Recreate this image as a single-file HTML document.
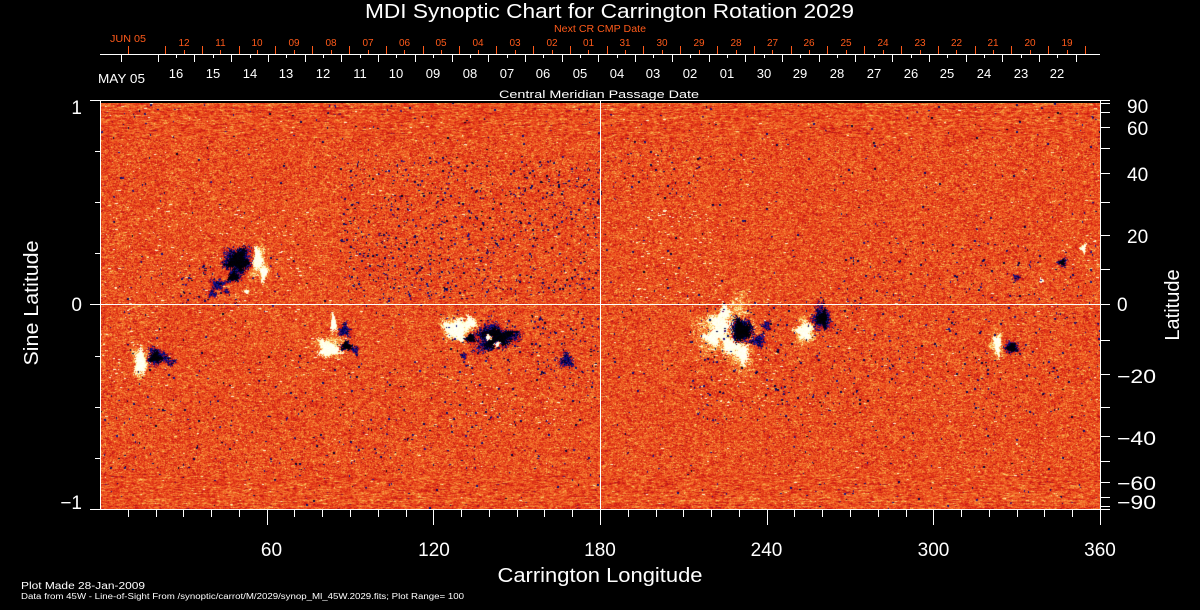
<!DOCTYPE html>
<html><head><meta charset="utf-8"><style>
html,body{margin:0;padding:0;background:#000;}
#wrap{position:relative;width:1200px;height:610px;overflow:hidden;background:#000;}
#cv{position:absolute;left:100px;top:103px;width:1000px;height:406px;background:#e95a24;}
#ov{position:absolute;left:0;top:0;}
text{font-family:"Liberation Sans",sans-serif;}
</style></head><body><div id="wrap">
<canvas id="cv" width="1000" height="406"></canvas>
<svg id="ov" width="1200" height="610" viewBox="0 0 1200 610" xmlns="http://www.w3.org/2000/svg">
<g id="spots">
<!-- Region A -->
<ellipse cx="237" cy="261" rx="13" ry="13" fill="#1a1a9a"/>
<ellipse cx="238" cy="260" rx="10" ry="10" fill="#000"/>
<ellipse cx="233" cy="276" rx="5" ry="5" fill="#000"/>
<ellipse cx="218" cy="284" rx="7" ry="5" fill="#1a1a9a"/>
<ellipse cx="212" cy="293" rx="4" ry="4" fill="#1a1a9a"/>
<ellipse cx="226" cy="291" rx="3" ry="3" fill="#1a1a9a"/>
<ellipse cx="260" cy="264" rx="7" ry="16" fill="#ffe89a"/>
<ellipse cx="257" cy="258" rx="4" ry="10" fill="#fff"/>
<ellipse cx="263" cy="273" rx="3" ry="8" fill="#fff"/>
<ellipse cx="246" cy="291" rx="3" ry="2" fill="#fff"/>
<!-- Region B -->
<ellipse cx="140" cy="362" rx="8" ry="14" fill="#ffe89a"/>
<ellipse cx="140" cy="362" rx="5" ry="11" fill="#fff"/>
<ellipse cx="157" cy="356" rx="10" ry="8" fill="#1a1a9a"/>
<ellipse cx="155" cy="357" rx="6" ry="5" fill="#000"/>
<ellipse cx="170" cy="362" rx="5" ry="3" fill="#1a1a9a"/>
<!-- Region C -->
<ellipse cx="330" cy="345" rx="12" ry="10" fill="#ffe89a"/>
<ellipse cx="328" cy="349" rx="9" ry="7" fill="#fff"/>
<ellipse cx="333" cy="323" rx="2.5" ry="9" fill="#fff"/>
<ellipse cx="344" cy="330" rx="6" ry="6" fill="#1a1a9a"/>
<ellipse cx="346" cy="346" rx="6" ry="4" fill="#000"/>
<ellipse cx="355" cy="350" rx="3" ry="4" fill="#1a1a9a"/>
<!-- Region D -->
<ellipse cx="458" cy="328" rx="15" ry="12" fill="#ffe89a"/>
<ellipse cx="456" cy="329" rx="11" ry="9" fill="#fff"/>
<ellipse cx="470" cy="322" rx="5" ry="5" fill="#fff"/>
<ellipse cx="494" cy="337" rx="19" ry="12" fill="#1a1a9a"/>
<ellipse cx="496" cy="337" rx="15" ry="9" fill="#000"/>
<ellipse cx="470" cy="338" rx="5" ry="4" fill="#000"/>
<ellipse cx="488" cy="337" rx="3" ry="3" fill="#fff"/>
<ellipse cx="497" cy="344" rx="3" ry="3" fill="#fff"/>
<ellipse cx="463" cy="355" rx="3" ry="3" fill="#1a1a9a"/>
<ellipse cx="566" cy="360" rx="7" ry="6" fill="#1a1a9a"/>
<ellipse cx="540" cy="318" rx="2" ry="2" fill="#1a1a9a"/>
<!-- Region E -->
<ellipse cx="728" cy="333" rx="27" ry="27" fill="#ffe89a"/>
<ellipse cx="720" cy="326" rx="10" ry="10" fill="#fff"/>
<ellipse cx="712" cy="338" rx="7" ry="6" fill="#fff"/>
<ellipse cx="730" cy="345" rx="8" ry="7" fill="#fff"/>
<ellipse cx="742" cy="353" rx="6" ry="8" fill="#fff"/>
<ellipse cx="724" cy="312" rx="5" ry="6" fill="#fff"/>
<ellipse cx="742" cy="330" rx="11" ry="11" fill="#1a1a9a"/>
<ellipse cx="741" cy="330" rx="9" ry="10" fill="#000"/>
<ellipse cx="758" cy="340" rx="7" ry="6" fill="#1a1a9a"/>
<ellipse cx="766" cy="325" rx="4" ry="5" fill="#1a1a9a"/>
<!-- Region F -->
<ellipse cx="805" cy="331" rx="10" ry="11" fill="#ffe89a"/>
<ellipse cx="804" cy="331" rx="7" ry="8" fill="#fff"/>
<ellipse cx="821" cy="318" rx="9" ry="12" fill="#1a1a9a"/>
<ellipse cx="822" cy="318" rx="5" ry="7" fill="#000"/>
<!-- Region G -->
<ellipse cx="996" cy="344" rx="6" ry="12" fill="#ffe89a"/>
<ellipse cx="997" cy="344" rx="3" ry="9" fill="#fff"/>
<ellipse cx="1011" cy="347" rx="7" ry="6" fill="#1a1a9a"/>
<ellipse cx="1012" cy="347" rx="4" ry="4" fill="#000"/>
<!-- Upper right -->
<ellipse cx="1062" cy="262" rx="4" ry="4" fill="#1a1a9a"/>
<ellipse cx="1062" cy="262" rx="2.5" ry="2.5" fill="#000"/>
<ellipse cx="1016" cy="277" rx="4" ry="3" fill="#1a1a9a"/>
<ellipse cx="1083" cy="248" rx="2.5" ry="4" fill="#fff"/>
<ellipse cx="1041" cy="280" rx="2" ry="2" fill="#fff"/>
</g>

<rect x="100" y="100" width="1000" height="3" fill="#000"/>

<g stroke="#fff" stroke-width="1" fill="none" shape-rendering="crispEdges">
<path d="M100 304.5 H1100 M600.5 100 V509"/>
<path d="M90 100.5 H1100 M90 509.5 H1100 M100.5 100 V510 M1100.5 100 V510"/>
<path d="M90 304.5 H100 M95 151.5 H100 M95 202.5 H100 M95 253.5 H100 M95 356.5 H100 M95 407.5 H100 M95 458.5 H100"/>
<path d="M1100 100.5 H1110 M1100 103.5 H1110 M1100 112.5 H1110 M1100 127.5 H1110 M1100 148.5 H1110 M1100 173.5 H1110 M1100 202.5 H1110 M1100 235.5 H1110 M1100 269.5 H1110 M1100 304.5 H1110 M1100 340.5 H1110 M1100 374.5 H1110 M1100 407.5 H1110 M1100 436.5 H1110 M1100 461.5 H1110 M1100 482.5 H1110 M1100 497.5 H1110 M1100 506.5 H1110 M1100 509.5 H1110"/>
<path d="M128.5 509 V517 M156.5 509 V517 M183.5 509 V517 M211.5 509 V517 M239.5 509 V517 M294.5 509 V517 M322.5 509 V517 M350.5 509 V517 M378.5 509 V517 M406.5 509 V517 M461.5 509 V517 M489.5 509 V517 M517.5 509 V517 M544.5 509 V517 M572.5 509 V517 M628.5 509 V517 M656.5 509 V517 M683.5 509 V517 M711.5 509 V517 M739.5 509 V517 M794.5 509 V517 M822.5 509 V517 M850.5 509 V517 M878.5 509 V517 M906.5 509 V517 M961.5 509 V517 M989.5 509 V517 M1017.5 509 V517 M1044.5 509 V517 M1072.5 509 V517"/>
<path d="M267.5 509 V525 M433.5 509 V525 M600.5 509 V525 M767.5 509 V525 M933.5 509 V525 M1100.5 509 V525"/>
<path d="M100 54.5 H1100"/>
<path d="M121.5 54 V62 M158.5 54 V62 M194.5 54 V62 M231.5 54 V62 M268.5 54 V62 M305.5 54 V62 M341.5 54 V62 M378.5 54 V62 M415.5 54 V62 M452.5 54 V62 M488.5 54 V62 M525.5 54 V62 M562.5 54 V62 M598.5 54 V62 M635.5 54 V62 M672.5 54 V62 M709.5 54 V62 M745.5 54 V62 M782.5 54 V62 M819.5 54 V62 M855.5 54 V62 M892.5 54 V62 M929.5 54 V62 M966.5 54 V62 M1002.5 54 V62 M1039.5 54 V62 M1076.5 54 V62"/>
<path d="M176.5 54 V58 M213.5 54 V58 M250.5 54 V58 M286.5 54 V58 M323.5 54 V58 M360.5 54 V58 M396.5 54 V58 M433.5 54 V58 M470.5 54 V58 M507.5 54 V58 M543.5 54 V58 M580.5 54 V58 M617.5 54 V58 M653.5 54 V58 M690.5 54 V58 M727.5 54 V58 M764.5 54 V58 M800.5 54 V58 M837.5 54 V58 M874.5 54 V58 M911.5 54 V58 M947.5 54 V58 M984.5 54 V58 M1021.5 54 V58 M1057.5 54 V58"/>
</g>
<g stroke="#ff5a1a" stroke-width="1" fill="none" shape-rendering="crispEdges">
<path d="M128.5 46 V54 M165.5 46 V54 M202.5 46 V54 M239.5 46 V54 M275.5 46 V54 M312.5 46 V54 M349.5 46 V54 M386.5 46 V54 M423.5 46 V54 M459.5 46 V54 M496.5 46 V54 M533.5 46 V54 M570.5 46 V54 M607.5 46 V54 M643.5 46 V54 M680.5 46 V54 M717.5 46 V54 M754.5 46 V54 M791.5 46 V54 M827.5 46 V54 M864.5 46 V54 M901.5 46 V54 M938.5 46 V54 M975.5 46 V54 M1011.5 46 V54 M1048.5 46 V54 M1085.5 46 V54"/>
<path d="M184.5 50 V54 M220.5 50 V54 M257.5 50 V54 M294.5 50 V54 M331.5 50 V54 M368.5 50 V54 M404.5 50 V54 M441.5 50 V54 M478.5 50 V54 M515.5 50 V54 M552.5 50 V54 M588.5 50 V54 M625.5 50 V54 M662.5 50 V54 M699.5 50 V54 M736.5 50 V54 M772.5 50 V54 M809.5 50 V54 M846.5 50 V54 M883.5 50 V54 M920.5 50 V54 M956.5 50 V54 M993.5 50 V54 M1030.5 50 V54 M1067.5 50 V54"/>
</g>

<text x="609.5" y="18" fill="#fff" font-size="20" text-anchor="middle" textLength="489" lengthAdjust="spacingAndGlyphs">MDI Synoptic Chart for Carrington Rotation 2029</text>
<text x="600" y="32" fill="#ff5a1a" font-size="10" text-anchor="middle" textLength="92" lengthAdjust="spacingAndGlyphs">Next CR CMP Date</text>
<text x="110" y="42" fill="#ff5a1a" font-size="10" textLength="36" lengthAdjust="spacingAndGlyphs">JUN 05</text>
<g fill="#ff5a1a" font-size="10" text-anchor="middle">
<text x="184" y="46">12</text><text x="220.5" y="46">11</text><text x="257" y="46">10</text><text x="294" y="46">09</text><text x="331" y="46">08</text><text x="368" y="46">07</text><text x="404.5" y="46">06</text><text x="441" y="46">05</text><text x="478" y="46">04</text><text x="515" y="46">03</text><text x="552" y="46">02</text><text x="588.5" y="46">01</text><text x="625" y="46">31</text><text x="662" y="46">30</text><text x="699" y="46">29</text><text x="736" y="46">28</text><text x="772.5" y="46">27</text><text x="809" y="46">26</text><text x="846" y="46">25</text><text x="883" y="46">24</text><text x="920" y="46">23</text><text x="956.5" y="46">22</text><text x="993" y="46">21</text><text x="1030" y="46">20</text><text x="1067" y="46">19</text>
</g>
<text x="98" y="83" fill="#fff" font-size="13" textLength="47" lengthAdjust="spacingAndGlyphs">MAY 05</text>
<g fill="#fff" font-size="13" text-anchor="middle">
<text x="176" y="78">16</text><text x="213" y="78">15</text><text x="250" y="78">14</text><text x="286" y="78">13</text><text x="323" y="78">12</text><text x="360" y="78">11</text><text x="396" y="78">10</text><text x="433" y="78">09</text><text x="470" y="78">08</text><text x="507" y="78">07</text><text x="543" y="78">06</text><text x="580" y="78">05</text><text x="617" y="78">04</text><text x="653" y="78">03</text><text x="690" y="78">02</text><text x="727" y="78">01</text><text x="764" y="78">30</text><text x="800" y="78">29</text><text x="837" y="78">28</text><text x="874" y="78">27</text><text x="911" y="78">26</text><text x="947" y="78">25</text><text x="984" y="78">24</text><text x="1021" y="78">23</text><text x="1057" y="78">22</text>
</g>
<text x="599" y="98" fill="#fff" font-size="11" text-anchor="middle" textLength="200" lengthAdjust="spacingAndGlyphs">Central Meridian Passage Date</text>

<g fill="#fff" font-size="19" text-anchor="end">
<text x="82" y="114">1</text>
<text x="82" y="311">0</text>
<text x="82" y="509">−1</text>
</g>
<text transform="translate(38,303) rotate(-90)" fill="#fff" font-size="20" text-anchor="middle" textLength="125" lengthAdjust="spacingAndGlyphs">Sine Latitude</text>

<g fill="#fff" font-size="19">
<text x="1127" y="113">90</text>
<text x="1127" y="135">60</text>
<text x="1127" y="181">40</text>
<text x="1127" y="243">20</text>
<text x="1117" y="311">0</text>
<text x="1117" y="383" textLength="39" lengthAdjust="spacingAndGlyphs">−20</text>
<text x="1117" y="445" textLength="39" lengthAdjust="spacingAndGlyphs">−40</text>
<text x="1117" y="490" textLength="39" lengthAdjust="spacingAndGlyphs">−60</text>
<text x="1117" y="509" textLength="39" lengthAdjust="spacingAndGlyphs">−90</text>
</g>
<text transform="translate(1179,305) rotate(-90)" fill="#fff" font-size="20" text-anchor="middle">Latitude</text>

<g fill="#fff" font-size="19" text-anchor="middle">
<text x="271.5" y="556">60</text>
<text x="434" y="556">120</text>
<text x="600" y="556">180</text>
<text x="766.5" y="556">240</text>
<text x="933.5" y="556">300</text>
<text x="1100" y="556">360</text>
</g>
<text x="600" y="582" fill="#fff" font-size="20" text-anchor="middle" textLength="205" lengthAdjust="spacingAndGlyphs">Carrington Longitude</text>

<text x="21" y="589" fill="#fff" font-size="10" textLength="124" lengthAdjust="spacingAndGlyphs">Plot Made 28-Jan-2009</text>
<text x="21" y="599" fill="#fff" font-size="8" textLength="443" lengthAdjust="spacingAndGlyphs">Data from 45W - Line-of-Sight From /synoptic/carrot/M/2029/synop_Ml_45W.2029.fits; Plot Range=  100</text>
</svg>
</div>
<script>
(function(){
var cv=document.getElementById('cv');
if(!cv||!cv.getContext) return;
var ctx=cv.getContext('2d'); if(!ctx) return;
var W=1000,H=406,X0=100,Y0=103;
var s=987654321;
function r(){ s^=s<<13; s^=s>>>17; s^=s<<5; return (s>>>0)/4294967296; }
var F=new Float32Array(W*H);
var els=document.querySelectorAll('#spots ellipse');
for(var i=0;i<els.length;i++){
  var e=els[i];
  var cx=+e.getAttribute('cx')-X0, cy=+e.getAttribute('cy')-Y0;
  var rx=+e.getAttribute('rx'), ry=+e.getAttribute('ry');
  var fill=e.getAttribute('fill');
  var amp = fill=='#000'?-1.5 : fill=='#1a1a9a'?-0.75 : fill=='#fff'?1.3 : 0.4;
  var ph1=r()*6.283, ph2=r()*6.283, a1=0.12+r()*0.15, a2=0.08+r()*0.1;
  var xa=Math.max(0,Math.floor(cx-rx*1.6)), xb=Math.min(W-1,Math.ceil(cx+rx*1.6));
  var ya=Math.max(0,Math.floor(cy-ry*1.6)), yb=Math.min(H-1,Math.ceil(cy+ry*1.6));
  for(var y=ya;y<=yb;y++){
    for(var x=xa;x<=xb;x++){
      var dx=(x-cx)/rx, dy=(y-cy)/ry;
      var th=Math.atan2(dy,dx);
      var d=Math.sqrt(dx*dx+dy*dy)*(1+a1*Math.sin(3*th+ph1)+a2*Math.sin(5*th+ph2))+(r()-0.5)*0.6;
      var w=d<0.7?1:(d>1.2?0:(1.2-d)/0.5);
      if(w>0){var k=y*W+x; F[k]=F[k]*(1-w)+amp*w;}
    }
  }
}
function dens(x,y){
  var d=0.3;
  if(x>340&&x<600&&y>160&&y<300) d+=2.5;
  if(x>530&&x<600&&y>310&&y<390) d+=2;
  if(x>180&&x<240&&y>265&&y<305) d+=2.5;
  if(x>690&&x<860&&y>300&&y<420) d+=1.5;
  if(x>840&&x<1100&&y>240&&y<300) d+=0.8;
  if(x>880&&x<1100&&y>310&&y<420) d+=0.8;
  if(x>100&&x<600&&y>360&&y<470) d+=0.5;
  if(x>600&&x<700&&y>150&&y<200) d+=1;
  if(x>440&&x<520&&y>310&&y<370) d+=2;
  return d;
}
for(i=0;i<16000;i++){
  var px=100+r()*1000, py=103+r()*406;
  if(r()*5>dens(px,py)) continue;
  var len=1+Math.floor(r()*2), hh=1+Math.floor(r()*2);
  var val=-0.6-r()*0.35;
  var bx=Math.floor(px-X0), by=Math.floor(py-Y0);
  for(var yy=by;yy<by+hh&&yy<H;yy++) for(var xx=bx;xx<bx+len&&xx<W;xx++){var k2=yy*W+xx; if(F[k2]>val) F[k2]=val;}
}
function ldens(x,y){
  var d=0.25;
  if(x>100&&x<300&&y>200&&y<320) d+=1.5;
  if(x>630&&x<720&&y>210&&y<300) d+=2.5;
  if(x>690&&x<780&&y>290&&y<410) d+=2;
  if(x>440&&x<570&&y>360&&y<430) d+=1.5;
  if(x>1060&&x<1100&&y>220&&y<280) d+=2;
  if(x>100&&x<170&&y>330&&y<390) d+=2;
  if(x>310&&x<350&&y>310&&y<370) d+=1.5;
  return d;
}
for(i=0;i<9000;i++){
  var qx=100+r()*1000, qy=103+r()*406;
  if(r()*5>ldens(qx,qy)) continue;
  var l2=1+Math.floor(r()*3);
  var v2=0.42+r()*0.4;
  var cx2=Math.floor(qx-X0), cy2=Math.floor(qy-Y0);
  for(var xx2=cx2;xx2<cx2+l2&&xx2<W;xx2++){var k3=cy2*W+xx2; if(F[k3]<v2&&F[k3]>-0.3) F[k3]=v2;}
}
var stops=[[-1.6,0,0,0],[-1.0,0,0,30],[-0.85,0,0,100],[-0.6,25,25,150],[-0.45,155,15,35],[-0.3,205,22,18],[0,236,76,28],[0.28,247,142,58],[0.42,250,200,92],[0.62,255,255,210],[1.6,255,255,255]];
var N=1024, LMIN=-1.6, LMAX=1.6, lut=new Uint8Array(N*3);
for(i=0;i<N;i++){
  var v=LMIN+(LMAX-LMIN)*i/(N-1), j=0;
  while(j<stops.length-2&&v>stops[j+1][0]) j++;
  var a=stops[j], b=stops[j+1], t=(v-a[0])/(b[0]-a[0]); if(t<0)t=0; if(t>1)t=1;
  lut[i*3]=a[1]+(b[1]-a[1])*t; lut[i*3+1]=a[2]+(b[2]-a[2])*t; lut[i*3+2]=a[3]+(b[3]-a[3])*t;
}
var img=ctx.createImageData(W,H), D=img.data;
var rowOff=new Float32Array(H);
for(var y3=0;y3<H;y3++){
  var edge=Math.min(y3,H-1-y3);
  rowOff[y3]= edge<30 ? (r()-0.5)*0.2*(1-edge/30) : 0;
}
for(var y4=0;y4<H;y4++){
  var prev=0;
  var corr = Math.min(y4,H-1-y4)<35 ? 0.55 : 0.25;
  for(var x4=0;x4<W;x4++){
    var n=(r()+r()+r()-1.5)*0.38;
    n=prev*corr+n*(1-corr*0.5); prev=n;
    var val2=F[y4*W+x4]+n+rowOff[y4];
    var idx=Math.round((val2-LMIN)/(LMAX-LMIN)*(N-1)); if(idx<0)idx=0; if(idx>N-1)idx=N-1;
    var p=(y4*W+x4)*4;
    D[p]=lut[idx*3]; D[p+1]=lut[idx*3+1]; D[p+2]=lut[idx*3+2]; D[p+3]=255;
  }
}
ctx.putImageData(img,0,0);
document.getElementById('spots').style.display='none';
})();
</script>
</body></html>
